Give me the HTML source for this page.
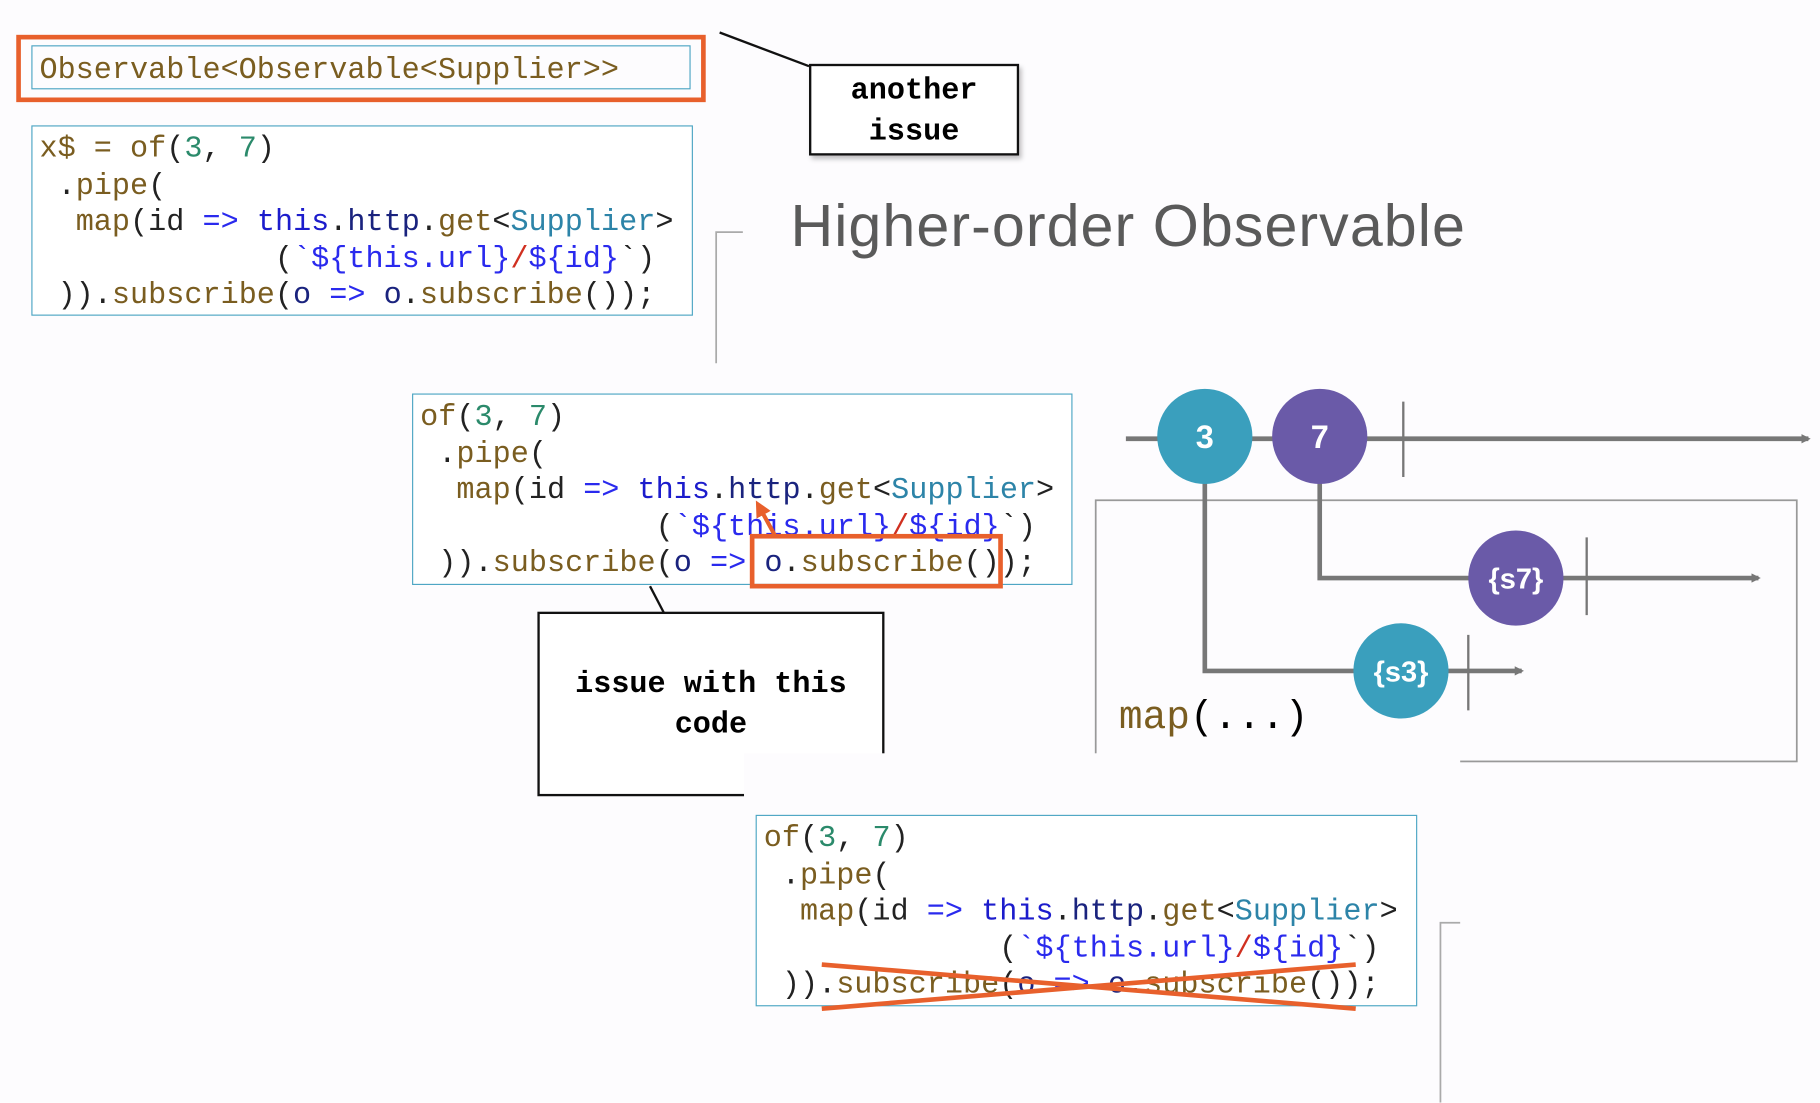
<!DOCTYPE html>
<html><head><meta charset="utf-8"><style>
html,body{margin:0;padding:0;background:#fff;width:1820px;height:1102px;overflow:hidden}
#s{position:absolute;left:0;top:0;width:1568px;height:950px;transform:scale(1.16071);transform-origin:0 0;background:#fdfcfe}
.a{position:absolute}
.code{position:absolute;border:1.5px solid #4ea6c4;font-family:"Liberation Mono",monospace;font-size:26px;line-height:31.5px;white-space:pre;color:#222;box-sizing:border-box;padding:4px 0 0 6px;background:#fff}
.o{color:#7a5d20}.n{color:#2b8a6b}.k{color:#2a2aee}.t{color:#1c1ccc}.v{color:#1a237e}.S{color:#2d84a8}.r{color:#d03020}.g{color:#222}
.callout{position:absolute;border:2px solid #111;background:#fff;font-family:"Liberation Mono",monospace;font-weight:bold;font-size:26px;text-align:center;box-shadow:2px 3px 4px rgba(0,0,0,.25);line-height:35px}
</style></head><body><div id="s">
<div class="a" style="left:14px;top:30px;width:586px;height:50px;border:4px solid #e8602c;"></div>
<div class="a" style="left:27px;top:39px;width:568px;height:38px;border:1.5px solid #4ea6c4;font-family:'Liberation Mono',monospace;font-size:26px;line-height:40px;color:#7a5d20;padding-left:6px;box-sizing:border-box;white-space:pre">Observable&lt;Observable&lt;Supplier&gt;&gt;</div>

<svg class="a" style="left:0;top:0" width="1568" height="950">
<line x1="620" y1="28" x2="697" y2="57" stroke="#111" stroke-width="2"/>
<polyline points="640,200 617,200 617,313" fill="none" stroke="#aaa" stroke-width="1.5"/>
<line x1="560" y1="505" x2="572" y2="528" stroke="#111" stroke-width="2"/>
<rect x="944" y="431" width="604" height="225" fill="none" stroke="#999" stroke-width="1.5"/>
<rect x="464" y="528" width="297" height="157" fill="#fff" stroke="#111" stroke-width="2"/>
<rect x="641" y="649" width="617" height="301" fill="#fdfcfe"/>
<polyline points="1258,795 1241,795 1241,950" fill="none" stroke="#aaa" stroke-width="1.5"/>
</svg>

<div class="callout" style="left:697px;top:55px;width:181px;height:79px;box-sizing:border-box;padding-top:4px">another<br>issue</div>

<div class="code" style="left:27px;top:108px;width:570px;height:164px"><span class="o">x$ = of</span>(<span class="n">3</span>, <span class="n">7</span>)
 .<span class="o">pipe</span>(
  <span class="o">map</span>(id <span class="k">=&gt;</span> <span class="t">this</span>.<span class="v">http</span>.<span class="o">get</span>&lt;<span class="S">Supplier</span>&gt;
             (<span class="k">`${this.url}</span><span class="r">/</span><span class="k">${id}</span>`)
 )).<span class="o">subscribe</span>(<span class="v">o</span> <span class="k">=&gt;</span> <span class="v">o</span>.<span class="o">subscribe</span>());</div>

<div class="a" style="left:681px;top:165px;font-family:'Liberation Sans',sans-serif;font-size:51px;color:#5a5a5a;white-space:nowrap;letter-spacing:0.9px">Higher-order Observable</div>

<div class="code" style="left:355px;top:339px;width:569px;height:165px"><span class="o">of</span>(<span class="n">3</span>, <span class="n">7</span>)
 .<span class="o">pipe</span>(
  <span class="o">map</span>(id <span class="k">=&gt;</span> <span class="t">this</span>.<span class="v">http</span>.<span class="o">get</span>&lt;<span class="S">Supplier</span>&gt;
             (<span class="k">`${this.url}</span><span class="r">/</span><span class="k">${id}</span>`)
 )).<span class="o">subscribe</span>(<span class="v">o</span> <span class="k">=&gt;</span> <span class="v">o</span>.<span class="o">subscribe</span>());</div>

<div class="callout" style="left:464px;top:528px;width:297px;height:157px;box-sizing:border-box;padding-top:44px;background:transparent;border:none;box-shadow:none">issue with this<br>code</div>

<div class="code" style="left:651px;top:702px;width:570px;height:165px"><span class="o">of</span>(<span class="n">3</span>, <span class="n">7</span>)
 .<span class="o">pipe</span>(
  <span class="o">map</span>(id <span class="k">=&gt;</span> <span class="t">this</span>.<span class="v">http</span>.<span class="o">get</span>&lt;<span class="S">Supplier</span>&gt;
             (<span class="k">`${this.url}</span><span class="r">/</span><span class="k">${id}</span>`)
 )).<span class="o">subscribe</span>(<span class="v">o</span> <span class="k">=&gt;</span> <span class="v">o</span>.<span class="o">subscribe</span>());</div>

<div class="a" style="left:964px;top:600px;font-family:'Liberation Mono',monospace;font-size:34px;white-space:pre"><span class="o">map</span>(...)</div>

<svg class="a" style="left:0;top:0" width="1568" height="950">
<defs><marker id="ar" markerWidth="8" markerHeight="8" refX="6" refY="4" orient="auto" markerUnits="userSpaceOnUse"><path d="M0,0 L8,4 L0,8z" fill="#777"/></marker>
<marker id="ao" markerWidth="14" markerHeight="14" refX="4" refY="7" orient="auto" markerUnits="userSpaceOnUse"><path d="M0,0 L14,7 L0,14z" fill="#e8602c"/></marker></defs>
<rect x="648" y="462" width="214" height="43" fill="none" stroke="#e8602c" stroke-width="4"/>
<line x1="668" y1="462" x2="656" y2="440" stroke="#e8602c" stroke-width="3.5" marker-end="url(#ao)"/>
<line x1="970" y1="378" x2="1558" y2="378" stroke="#777" stroke-width="4" marker-end="url(#ar)"/>
<line x1="1209" y1="346" x2="1209" y2="411" stroke="#777" stroke-width="2"/>
<polyline points="1038,400 1038,578 1311,578" fill="none" stroke="#777" stroke-width="4" marker-end="url(#ar)"/>
<polyline points="1137,400 1137,498 1515,498" fill="none" stroke="#777" stroke-width="4" marker-end="url(#ar)"/>
<line x1="1367" y1="463" x2="1367" y2="530" stroke="#777" stroke-width="2"/>
<line x1="1265" y1="547" x2="1265" y2="612" stroke="#777" stroke-width="2"/>
<g font-family="Liberation Sans,sans-serif" font-weight="bold" fill="#fff" text-anchor="middle">
<circle cx="1038" cy="376" r="41" fill="#3a9fbd"/><text x="1038" y="386" font-size="28">3</text>
<circle cx="1137" cy="376" r="41" fill="#6a5aa8"/><text x="1137" y="386" font-size="28">7</text>
<circle cx="1306" cy="498" r="41" fill="#6a5aa8"/><text x="1306" y="507" font-size="25">{s7}</text>
<circle cx="1207" cy="578" r="41" fill="#3a9fbd"/><text x="1207" y="587" font-size="25">{s3}</text>
</g>
<line x1="708" y1="831" x2="1168" y2="869" stroke="#e8602c" stroke-width="4"/>
<line x1="708" y1="869" x2="1168" y2="831" stroke="#e8602c" stroke-width="4"/>
</svg>
</div></body></html>
